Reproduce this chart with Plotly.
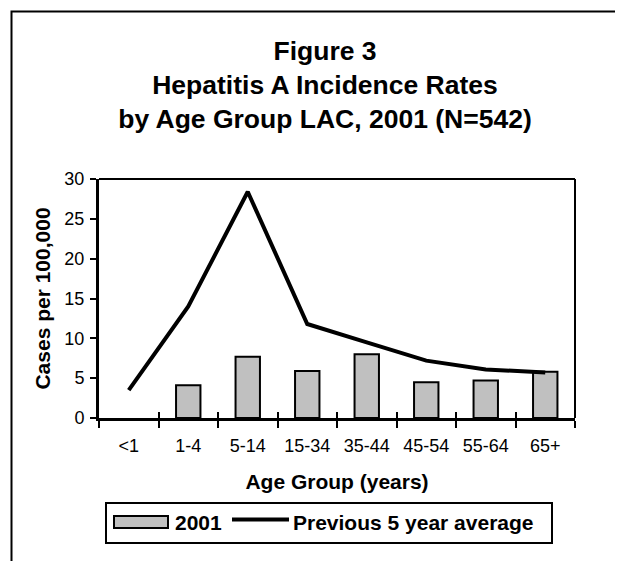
import plotly.graph_objects as go

# ---- data ----
age_groups = ["<1", "1-4", "5-14", "15-34", "35-44", "45-54", "55-64", "65+"]
rates_2001 = [None, 4.1, 7.7, 5.9, 8.0, 4.5, 4.7, 5.8]
prev_5yr_avg = [3.5, 14.0, 28.4, 11.8, 9.5, 7.2, 6.1, 5.7]
y_ticks = [0, 5, 10, 15, 20, 25, 30]

title_lines = ["Figure 3", "Hepatitis A Incidence Rates", "by Age Group LAC, 2001 (N=542)"]
legend_names = ["2001", "Previous 5 year average"]

FONT = "Liberation Sans, Arial, sans-serif"
OFF = 8  # page body margin
W, H = 615, 553
L, T = 91, 171
PW, PH = 476, 239
R, B = W - L - PW, H - T - PH


def px(x):
    # screen x -> paper x
    return (x - OFF - L) / PW


def py(y):
    # screen y -> paper y
    return (T + PH - (y - OFF)) / PH


fig = go.Figure()
fig.add_trace(go.Bar(
    x=age_groups, y=rates_2001, name=legend_names[0], width=0.41,
    marker=dict(color="#C0C0C0", line=dict(color="black", width=2)),
    xaxis="x", yaxis="y", showlegend=False,
))
fig.add_trace(go.Scatter(
    x=age_groups, y=prev_5yr_avg, name=legend_names[1], mode="lines",
    line=dict(color="black", width=4),
    xaxis="x2", yaxis="y", showlegend=False,
))

axis_common = dict(showgrid=False, zeroline=False, tickcolor="black", tickwidth=2)

fig.update_layout(
    width=W, height=H,
    margin=dict(l=L, r=R, t=T, b=B),
    paper_bgcolor="white", plot_bgcolor="white",
    font=dict(family=FONT, color="black"),
    title=dict(
        text="<br>".join(title_lines),
        x=(325 - OFF) / W, xanchor="center", xref="container",
        y=1 - (59.5 - OFF) / H, yanchor="middle", yref="container",
        font=dict(size=26.5, family=FONT, color="black", weight="bold"),
    ),
    xaxis=dict(
        type="category", categoryorder="array", categoryarray=age_groups,
        range=[-0.5, 7.5], showline=True, linecolor="black", linewidth=3,
        ticks="outside", tickson="boundaries", ticklen=7, ticklabelstandoff=9,
        tickfont=dict(size=18, family=FONT, color="black"),
        title=dict(text="Age Group (years)", standoff=20,
                   font=dict(size=21, family=FONT, color="black", weight="bold")),
        **axis_common,
    ),
    xaxis2=dict(
        type="category", categoryorder="array", categoryarray=age_groups,
        range=[-0.5, 7.5], overlaying="x", anchor="y", side="bottom",
        ticks="inside", tickson="boundaries", ticklen=6,
        showticklabels=False, showline=False,
        **axis_common,
    ),
    yaxis=dict(
        range=[0, 30], tickmode="array", tickvals=y_ticks,
        showline=True, linecolor="black", linewidth=3,
        ticks="outside", ticklen=6, ticklabelstandoff=2,
        tickfont=dict(size=18, family=FONT, color="black"),
        title=dict(text="Cases per 100,000", standoff=9,
                   font=dict(size=21, family=FONT, color="black", weight="bold")),
        **axis_common,
    ),
    yaxis2=dict(
        range=[0, 30], tickmode="array", tickvals=y_ticks,
        overlaying="y", anchor="x", side="left",
        ticks="inside", ticklen=6, showticklabels=False, showline=False,
        **axis_common,
    ),
    showlegend=False,
)

shapes = []
# outer frame
shapes.append(dict(type="rect", xref="paper", yref="paper",
                   x0=px(11.5), x1=px(660), y0=py(11.5), y1=py(620),
                   line=dict(color="black", width=2), fillcolor="rgba(0,0,0,0)", layer="below"))
# plot area top and right borders
shapes.append(dict(type="line", xref="paper", yref="paper", x0=0, x1=1, y0=1, y1=1,
                   line=dict(color="black", width=2)))
shapes.append(dict(type="line", xref="paper", yref="paper", x0=1, x1=1, y0=0, y1=1,
                   line=dict(color="black", width=2)))
# legend box
shapes.append(dict(type="rect", xref="paper", yref="paper",
                   x0=px(106), x1=px(552), y0=py(503), y1=py(543),
                   line=dict(color="black", width=2), fillcolor="white"))
# legend bar swatch
shapes.append(dict(type="rect", xref="paper", yref="paper",
                   x0=px(114), x1=px(168), y0=py(516), y1=py(528),
                   line=dict(color="black", width=2), fillcolor="#C0C0C0"))
# legend line sample
shapes.append(dict(type="line", xref="paper", yref="paper",
                   x0=px(232), x1=px(289), y0=py(519.5), y1=py(519.5),
                   line=dict(color="black", width=4)))
fig.update_layout(shapes=shapes)

annotations = [
    dict(text=legend_names[0], xref="paper", yref="paper", x=px(173), y=py(522),
         xanchor="left", yanchor="middle", showarrow=False,
         font=dict(size=21, family=FONT, color="black", weight="bold")),
    dict(text=legend_names[1], xref="paper", yref="paper", x=px(291), y=py(522),
         xanchor="left", yanchor="middle", showarrow=False,
         font=dict(size=21, family=FONT, color="black", weight="bold")),
]
fig.update_layout(annotations=annotations)

fig.write_html("out.html")
